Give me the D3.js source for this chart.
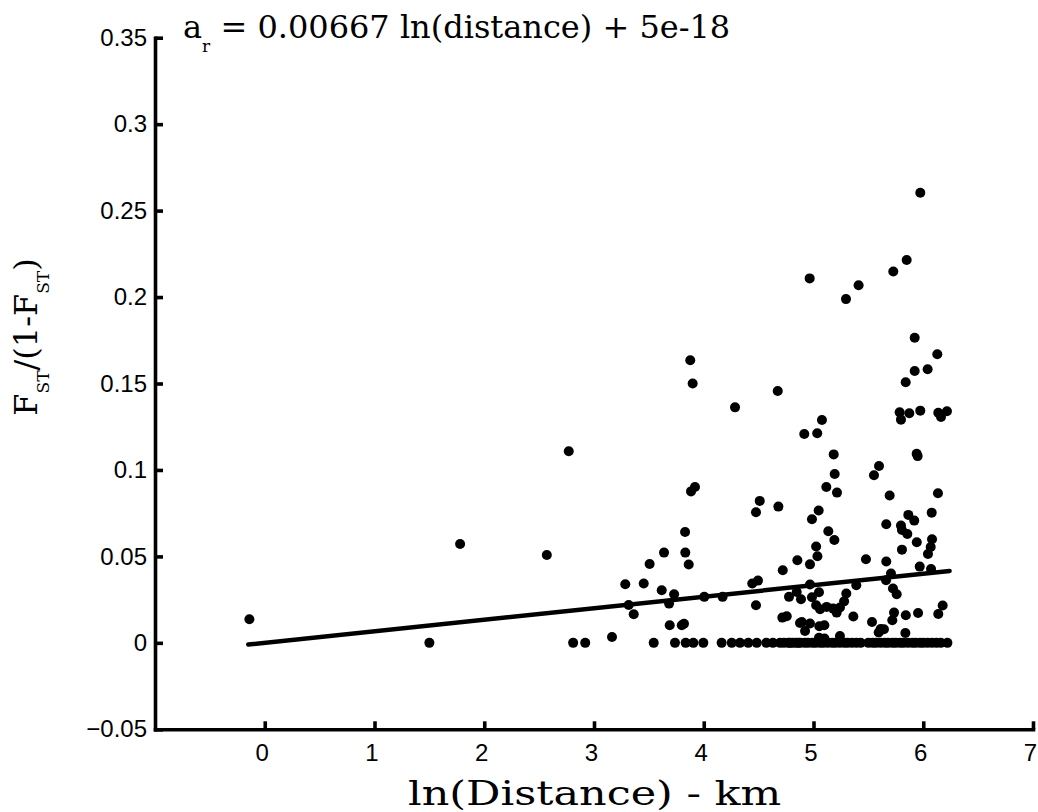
<!DOCTYPE html>
<html><head><meta charset="utf-8">
<script src="https://cdn.jsdelivr.net/npm/d3@7"></script>
<style>
html,body{margin:0;padding:0;background:#fff;}
svg{display:block;}
</style></head>
<body>
<svg id="chart" width="1038" height="812"></svg>
<script>
// ---- data ----
const xTicks = [0, 1, 2, 3, 4, 5, 6, 7];
const yTicks = [-0.05, 0, 0.05, 0.1, 0.15, 0.2, 0.25, 0.3, 0.35];
const yTickLabels = ["\u22120.05", "0", "0.05", "0.1", "0.15", "0.2", "0.25", "0.3", "0.35"];
const fitSlope = 0.00667;
const fitIntercept = 5e-18;
const fitRange = [-0.15, 6.24];

const lnDistance = [
 -0.14, 1.50, 1.78, 2.57, 2.77, 2.81, 2.92, 3.164, 3.285, 3.316, 3.362, 3.453, 3.507, 3.544,
 3.617, 3.638, 3.684, 3.69, 3.73, 3.738, 3.80, 3.82, 3.83, 3.832, 3.835, 3.863, 3.877, 3.884,
 3.899, 3.905, 3.92, 3.996, 4.005, 4.163, 4.172, 4.255, 4.285, 4.33, 4.406, 4.442, 4.476, 4.476,
 4.483, 4.494, 4.51, 4.57, 4.63, 4.674, 4.68, 4.695, 4.716, 4.72, 4.756, 4.777, 4.786, 4.847,
 4.853, 4.862, 4.877, 4.886, 4.893, 4.916, 4.923, 4.965, 4.968, 4.968, 4.968, 4.986, 4.986, 5.024,
 5.024, 5.034, 5.036, 5.047, 5.05, 5.053, 5.06, 5.077, 5.099, 5.117, 5.12, 5.135, 5.18, 5.184,
 5.19, 5.193, 5.211, 5.214, 5.241, 5.241, 5.279, 5.296, 5.299, 5.363, 5.39, 5.411, 5.478, 5.533,
 5.551, 5.594, 5.597, 5.612, 5.642, 5.661, 5.663, 5.663, 5.694, 5.706, 5.718, 5.724, 5.727, 5.734,
 5.758, 5.785, 5.797, 5.797, 5.806, 5.806, 5.837, 5.84, 5.841, 5.849, 5.855, 5.864, 5.873, 5.918,
 5.922, 5.922, 5.94, 5.941, 5.949, 5.953, 5.968, 5.973, 5.973, 6.04, 6.043, 6.068, 6.071, 6.077,
 6.08, 6.128, 6.134, 6.137, 6.137, 6.162, 6.177, 6.216, 5.05, 5.10,
 4.73, 4.77, 4.81, 4.84, 4.88, 4.92, 4.95, 4.99, 5.02, 5.06, 5.09, 5.13, 5.17, 5.20, 5.24, 5.28,
 5.31, 5.35, 5.39, 5.43, 5.50, 5.54, 5.57, 5.61, 5.65, 5.68, 5.72, 5.75, 5.79, 5.82, 5.86, 5.90,
 5.93, 5.97, 6.00, 6.04, 6.08, 6.12, 6.16, 6.22
];
const fstRatio = [
 0.0136, 0.000, 0.0572, 0.0508, 0.1108, 0, 0, 0.0034, 0.0339, 0.0219, 0.0165, 0.0343, 0.0456, 0,
 0.0304, 0.0522, 0.0227, 0.0102, 0.0281, 0, 0.0102, 0.011, 0.0641, 0.0522, 0, 0.0453, 0.1634, 0.0876,
 0.150, 0, 0.0901, 0, 0.0266, 0, 0.0266, 0, 0.1362, 0, 0, 0.0343, 0.0755, 0.0217,
 0, 0.036, 0.0821, 0, 0, 0.1457, 0.0788, 0, 0.0146, 0.042, 0.0154, 0.0266, 0, 0.0294,
 0.0478, 0, 0.0115, 0.0252, 0.0121, 0.1208, 0.0069, 0.2108, 0.0454, 0.0337, 0.0112, 0.0715, 0.0264, 0.0557,
 0.0217, 0.1212, 0.0501, 0.0765, 0.0293, 0.0096, 0.0194, 0.1289, 0.0102, 0.0901, 0.0208, 0.0645, 0.0198, 0.109,
 0.0595, 0.0977, 0.0175, 0.0869, 0.0204, 0.004, 0.024, 0.1988, 0.0285, 0.0152, 0.0333, 0.2068, 0.0483, 0.0121,
 0.0969, 0.006, 0.1023, 0.008, 0.0079, 0.0362, 0.0686, 0.047, 0.0852, 0.0401, 0.0131, 0.0314, 0.2148, 0.0175,
 0.0281, 0.1333, 0.1291, 0.0678, 0.0653, 0.0539, 0.0057, 0.1507, 0.016, 0.2214, 0.063, 0.074, 0.1328, 0.0707,
 0.1765, 0.1572, 0.1094, 0.0582, 0.108, 0.0173, 0.0441, 0.2603, 0.1343, 0.1582, 0.0514, 0.0554, 0.0427, 0.0753,
 0.0599, 0.1669, 0.0865, 0.1331, 0.0167, 0.1306, 0.0216, 0.1339, 0.003, 0.0025,
 0, 0, 0, 0, 0, 0, 0, 0, 0, 0, 0, 0, 0, 0, 0, 0,
 0, 0, 0, 0, 0, 0, 0, 0, 0, 0, 0, 0, 0, 0, 0, 0,
 0, 0, 0, 0, 0, 0, 0, 0
];

// ---- drawing ----
const svg = d3.select("#chart");
const x = d3.scaleLinear().domain([-1, 7]).range([155, 1033]);
const y = d3.scaleLinear().domain([-0.05, 0.35]).range([729.3, 37.7]);
const points = lnDistance.map((d, i) => ({x: d, y: fstRatio[i]}));

// fit line
svg.append("line")
  .attr("x1", x(fitRange[0])).attr("y1", y(fitSlope * fitRange[0] + fitIntercept))
  .attr("x2", x(fitRange[1])).attr("y2", y(fitSlope * fitRange[1] + fitIntercept))
  .attr("stroke", "#000").attr("stroke-width", 4.5).attr("stroke-linecap", "round");

// points
svg.append("g").selectAll("circle").data(points).join("circle")
  .attr("cx", d => x(d.x)).attr("cy", d => y(d.y)).attr("r", 5).attr("fill", "#000");

// axes
const xAxis = svg.append("g").attr("transform", `translate(0,${y(-0.05)})`)
  .call(d3.axisBottom(x).tickValues(xTicks).tickFormat(d3.format("d")).tickSize(-8).tickSizeOuter(0).tickPadding(15));
const yAxis = svg.append("g").attr("transform", `translate(${x(-1)},0)`)
  .call(d3.axisLeft(y).tickValues(yTicks).tickFormat((d, i) => yTickLabels[i]).tickSize(-8).tickSizeOuter(0).tickPadding(8));
[xAxis, yAxis].forEach(g => {
  g.select(".domain").attr("stroke", "#000").attr("stroke-width", 3.6).attr("stroke-linecap", "square");
  g.selectAll(".tick line").attr("stroke", "#000").attr("stroke-width", 3.6);
  g.selectAll(".tick text").attr("fill", "#000")
    .style("font-family", "'Liberation Sans', Arial, sans-serif").style("font-size", "24px");
});
xAxis.selectAll(".tick text").attr("dx", -3);

const serif = "'DejaVu Serif', serif";
// title
const title = svg.append("text").attr("x", 183).attr("y", 37.5)
  .style("font-family", serif).style("font-size", "32px").attr("fill", "#000");
title.append("tspan").text("a");
title.append("tspan").attr("dy", 14).style("font-size", "17px").text("r");
title.append("tspan").attr("dy", -14).text(" = 0.00667 ln(distance) + 5e-18");

// x label
svg.append("text").attr("transform", "translate(408,805) scale(1.3,1)").attr("text-anchor", "start")
  .style("font-family", serif).style("font-size", "33px").attr("fill", "#000")
  .text("ln(Distance) - km");

// y label
const yl = svg.append("text").attr("transform", "translate(37,337) rotate(-90)").attr("text-anchor", "middle")
  .style("font-family", serif).style("font-size", "32px").attr("fill", "#000");
yl.append("tspan").text("F");
yl.append("tspan").attr("dy", 12).style("font-size", "17px").text("ST");
yl.append("tspan").attr("dy", -12).text("/(1-F");
yl.append("tspan").attr("dy", 12).style("font-size", "17px").text("ST");
yl.append("tspan").attr("dy", -12).text(")");
</script>
</body></html>
